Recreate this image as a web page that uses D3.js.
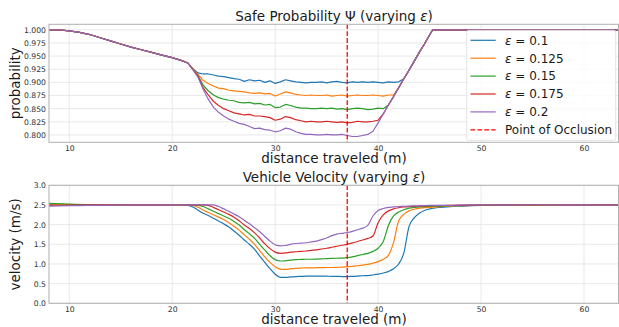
<!DOCTYPE html>
<html>
<head>
<meta charset="utf-8">
<script src="https://cdn.jsdelivr.net/npm/d3@7"></script>
<style>
  body { margin: 0; background: #fff; }
  svg { font-family: "DejaVu Sans", sans-serif; }
</style>
</head>
<body>
<svg id="chart" width="619" height="327"></svg>
<script>
// ---- data ----
const epsLabels = ['0.1', '0.125', '0.15', '0.175', '0.2'];
const colors = ['#1f77b4', '#ff7f0e', '#2ca02c', '#d62728', '#9467bd'];
const occlusionX = 37;

const xTicks = [10, 20, 30, 40, 50, 60];
const probTicks = [0.8, 0.825, 0.85, 0.875, 0.9, 0.925, 0.95, 0.975, 1.0];
const velTicks = [0, 0.5, 1, 1.5, 2, 2.5, 3];

// safe probability
const probX = [8, 9, 10, 11, 12, 13, 14, 15, 16, 17, 18, 19, 20, 21,
  21.5, 22, 22.5, 23, 23.5, 24, 24.5, 25, 25.5, 26, 26.5, 27, 27.5, 28, 28.5, 29, 29.5, 30,
  30.5, 31, 31.5, 32, 32.5, 33, 33.5, 34, 34.5, 35, 35.5, 36, 36.5, 37, 37.5, 38, 38.5, 39,
  39.5, 40, 40.5, 41, 41.5, 42, 42.5, 43, 43.5, 44, 44.5, 45, 45.3, 46, 50, 55, 60, 63.4];
const probHead = [1.000, 0.9998, 0.998, 0.995, 0.991, 0.985, 0.979, 0.973, 0.967, 0.962, 0.957, 0.952, 0.947, 0.941];
const probTail = [1, 1, 1, 1, 1, 1];
const prob01 = [...probHead,
  .937, .926, .918, .916, .916, .914, .912, .911, .909, .907,
  .906, .902, .905, .903, .904, .900, .903, .898, .901, .905,
  .903, .901, .900, .899, .900, .900, .901, .899, .901, .902,
  .900, .899, .901, .900, .901, .900, .901, .900, .899, .901,
  .900, .901, .907, .923, .940, .957, .973, .990, ...probTail];
const prob0125 = [...probHead,
  .937, .926, .915, .904, .898, .893, .889, .888, .885, .884,
  .883, .882, .880, .879, .880, .878, .879, .874, .878, .882,
  .880, .877, .876, .875, .876, .875, .875, .876, .874, .875,
  .876, .874, .875, .876, .875, .875, .876, .875, .874, .876,
  .876, .890, .907, .923, .940, .957, .973, .990, ...probTail];
const prob015 = [...probHead,
  .937, .925, .913, .895, .884, .876, .871, .868, .866, .865,
  .862, .861, .862, .859, .860, .857, .858, .852, .853, .858,
  .856, .853, .851, .851, .850, .850, .851, .850, .851, .849,
  .850, .848, .850, .851, .850, .848, .849, .851, .850, .857,
  .873, .890, .907, .923, .940, .957, .973, .990, ...probTail];
const prob0175 = [...probHead,
  .937, .925, .912, .890, .876, .864, .856, .850, .846, .842,
  .840, .838, .839, .836, .836, .835, .833, .828, .830, .835,
  .833, .829, .827, .825, .826, .825, .825, .826, .825, .824,
  .825, .823, .824, .826, .825, .825, .826, .828, .840, .857,
  .873, .890, .907, .923, .940, .957, .973, .990, ...probTail];
const prob02 = [...probHead,
  .937, .924, .910, .887, .868, .853, .843, .836, .830, .826,
  .822, .820, .816, .812, .813, .810, .809, .806, .808, .813,
  .811, .806, .803, .801, .801, .800, .800, .801, .800, .800,
  .801, .799, .797, .797, .799, .801, .807, .823, .840, .857,
  .873, .890, .907, .923, .940, .957, .973, .990, ...probTail];

// vehicle velocity
const velX = [8, 10, 12, 14, 16, 18, 20, 21,
  21.5, 22, 22.5, 23, 23.5, 24, 24.5, 25, 25.5, 26, 26.5, 27, 27.5, 28, 28.5, 29, 29.5, 30,
  30.5, 31, 31.5, 32, 32.5, 33, 33.5, 34, 34.5, 35, 35.5, 36, 36.5, 37, 37.5, 38, 38.5, 39,
  39.5, 40, 40.5, 41, 41.5, 42, 42.5, 43, 43.5, 44, 44.5, 45,
  46, 47, 48, 50, 52, 55, 58, 60, 63.4];
const vel01 = [2.51, 2.505, 2.50, 2.50, 2.50, 2.50, 2.50, 2.50,
  2.49, 2.45, 2.37, 2.29, 2.23, 2.16, 2.09, 2.02, 1.94, 1.84, 1.73, 1.61, 1.50, 1.37, 1.20, 1.04, 0.88, 0.74,
  0.66, 0.66, 0.67, 0.68, 0.685, 0.69, 0.69, 0.69, 0.69, 0.69, 0.685, 0.685, 0.68, 0.68, 0.685, 0.69, 0.70, 0.705,
  0.72, 0.74, 0.77, 0.81, 0.88, 1.00, 1.28, 1.95, 2.17, 2.29, 2.36, 2.40,
  2.44, 2.46, 2.47, 2.49, 2.49, 2.50, 2.50, 2.50, 2.49];
const vel0125 = [2.52, 2.51, 2.50, 2.50, 2.50, 2.50, 2.50, 2.50,
  2.50, 2.49, 2.44, 2.37, 2.31, 2.25, 2.19, 2.13, 2.05, 1.96, 1.86, 1.74, 1.63, 1.50, 1.34, 1.18, 1.04, 0.93,
  0.87, 0.86, 0.88, 0.89, 0.895, 0.90, 0.90, 0.905, 0.905, 0.91, 0.91, 0.915, 0.92, 0.93, 0.94, 0.955, 0.97, 0.99,
  1.02, 1.06, 1.12, 1.22, 1.55, 2.10, 2.26, 2.35, 2.39, 2.42, 2.43, 2.44,
  2.46, 2.47, 2.48, 2.49, 2.50, 2.50, 2.50, 2.50, 2.49];
const vel015 = [2.54, 2.52, 2.505, 2.50, 2.50, 2.50, 2.50, 2.50,
  2.50, 2.50, 2.49, 2.46, 2.40, 2.34, 2.28, 2.22, 2.16, 2.08, 1.99, 1.87, 1.77, 1.65, 1.50, 1.35, 1.21, 1.11,
  1.075, 1.08, 1.10, 1.11, 1.115, 1.12, 1.12, 1.125, 1.13, 1.135, 1.14, 1.145, 1.15, 1.16, 1.18, 1.21, 1.24, 1.27,
  1.32, 1.40, 1.57, 1.98, 2.22, 2.32, 2.38, 2.42, 2.44, 2.45, 2.46, 2.465,
  2.47, 2.48, 2.485, 2.49, 2.50, 2.50, 2.50, 2.50, 2.50];
const vel0175 = [2.49, 2.495, 2.50, 2.50, 2.50, 2.50, 2.50, 2.50,
  2.50, 2.50, 2.50, 2.50, 2.49, 2.44, 2.38, 2.32, 2.26, 2.19, 2.10, 1.99, 1.90, 1.79, 1.66, 1.51, 1.39, 1.30,
  1.27, 1.28, 1.30, 1.31, 1.32, 1.33, 1.345, 1.36, 1.38, 1.40, 1.425, 1.45, 1.475, 1.50, 1.535, 1.57, 1.61, 1.65,
  1.71, 2.05, 2.25, 2.35, 2.40, 2.43, 2.45, 2.46, 2.465, 2.47, 2.475, 2.48,
  2.485, 2.49, 2.49, 2.50, 2.50, 2.50, 2.50, 2.50, 2.50];
const vel02 = [2.47, 2.48, 2.49, 2.495, 2.50, 2.50, 2.50, 2.50,
  2.50, 2.50, 2.50, 2.50, 2.50, 2.50, 2.46, 2.40, 2.34, 2.27, 2.20, 2.11, 2.02, 1.92, 1.82, 1.70, 1.58, 1.49,
  1.46, 1.47, 1.50, 1.52, 1.53, 1.54, 1.56, 1.58, 1.62, 1.66, 1.72, 1.76, 1.78, 1.80, 1.83, 1.87, 1.91, 1.98,
  2.22, 2.36, 2.41, 2.44, 2.45, 2.46, 2.465, 2.47, 2.475, 2.48, 2.485, 2.49,
  2.49, 2.49, 2.50, 2.50, 2.50, 2.505, 2.50, 2.50, 2.49];

const probSeries = [prob01, prob0125, prob015, prob0175, prob02];
const velSeries = [vel01, vel0125, vel015, vel0175, vel02];

// ---- layout ----
const svg = d3.select('#chart');
const left = 49, right = 619;

const x = d3.scaleLinear().domain([8.03, 63.4]).range([left, right]);

function panel(opts) {
  const y = d3.scaleLinear().domain(opts.yDomain).range([opts.bottom, opts.top]);
  const g = svg.append('g');

  g.append('clipPath').attr('id', opts.id)
    .append('rect')
    .attr('x', left).attr('y', opts.top)
    .attr('width', right - left).attr('height', opts.bottom - opts.top);

  // grid
  g.append('g').selectAll('line').data(xTicks).join('line')
    .attr('x1', d => x(d)).attr('x2', d => x(d))
    .attr('y1', opts.top).attr('y2', opts.bottom)
    .attr('stroke', '#e3e3e3').attr('stroke-width', 0.8);
  g.append('g').selectAll('line').data(opts.yTicks).join('line')
    .attr('x1', left).attr('x2', right)
    .attr('y1', d => y(d)).attr('y2', d => y(d))
    .attr('stroke', '#e3e3e3').attr('stroke-width', 0.8);

  // axes: labels only, no tick marks
  const xa = g.append('g')
    .attr('transform', `translate(0,${opts.bottom})`)
    .call(d3.axisBottom(x).tickValues(xTicks).tickSize(0).tickPadding(3.5));
  xa.select('.domain').remove();
  xa.selectAll('text').attr('font-size', 7.7).attr('fill', '#333')
    .attr('font-family', '"DejaVu Sans", sans-serif');

  const ya = g.append('g')
    .attr('transform', `translate(${left},0)`)
    .call(d3.axisLeft(y).tickValues(opts.yTicks).tickSize(0).tickPadding(3)
      .tickFormat(d3.format(opts.fmt)));
  ya.select('.domain').remove();
  ya.selectAll('text').attr('font-size', 7.7).attr('fill', '#333')
    .attr('font-family', '"DejaVu Sans", sans-serif');

  // series
  const line = d3.line()
    .x((d, i) => x(opts.xs[i]))
    .y(d => y(d))
    .curve(opts.curve);
  const lines = g.append('g').attr('clip-path', `url(#${opts.id})`);
  opts.series.forEach((s, k) => {
    lines.append('path')
      .attr('d', line(s))
      .attr('fill', 'none')
      .attr('stroke', colors[k])
      .attr('stroke-width', 1.2)
      .attr('stroke-linejoin', 'round');
  });

  // point of occlusion
  lines.append('line')
    .attr('x1', x(occlusionX)).attr('x2', x(occlusionX))
    .attr('y1', opts.top).attr('y2', opts.bottom)
    .attr('stroke', '#ff0000').attr('stroke-width', 1.3)
    .attr('stroke-dasharray', '4.8,2.1');

  // frame
  g.append('rect')
    .attr('x', left).attr('y', opts.top)
    .attr('width', right - left - 0.5).attr('height', opts.bottom - opts.top)
    .attr('fill', 'none').attr('stroke', '#b0b0b0').attr('stroke-width', 1);

  // title with italic epsilon
  const t = g.append('text')
    .attr('x', (left + right) / 2).attr('y', opts.top - 3)
    .attr('text-anchor', 'middle').attr('font-size', 13.5).attr('fill', '#1a1a1a');
  t.append('tspan').text(opts.title + ' (varying ');
  t.append('tspan').attr('font-style', 'italic').text('ε');
  t.append('tspan').text(')');

  g.append('text')
    .attr('x', (left + right) / 2).attr('y', opts.bottom + 21)
    .attr('text-anchor', 'middle').attr('font-size', 13.5).attr('fill', '#1a1a1a')
    .text('distance traveled (m)');

  g.append('text')
    .attr('transform', `translate(20,${(opts.top + opts.bottom) / 2}) rotate(-90)`)
    .attr('text-anchor', 'middle').attr('font-size', 13.5).attr('fill', '#1a1a1a')
    .text(opts.ylabel);

  return { g, y };
}

const probPanel = panel({
  id: 'clipTop', top: 24.3, bottom: 142.3, yDomain: [0.786, 1.0105],
  yTicks: probTicks, fmt: '.3f', xs: probX, series: probSeries,
  curve: d3.curveLinear, title: 'Safe Probability Ψ', ylabel: 'probability'
});

panel({
  id: 'clipBot', top: 185.3, bottom: 303.3, yDomain: [0, 3],
  yTicks: velTicks, fmt: '.1f', xs: velX, series: velSeries,
  curve: d3.curveMonotoneX, title: 'Vehicle Velocity', ylabel: 'velocity (m/s)'
});

// ---- legend ----
const lg = probPanel.g.append('g');
lg.append('rect')
  .attr('x', 466.7).attr('y', 30.3).attr('width', 149).attr('height', 110)
  .attr('rx', 2).attr('fill', '#fff').attr('fill-opacity', 0.8)
  .attr('stroke', '#dcdcdc').attr('stroke-width', 0.8);

const legendItems = epsLabels.map((e, i) => ({ eps: e, color: colors[i], dash: null }))
  .concat([{ eps: null, color: '#ff0000', dash: '4.8,2.1' }]);

legendItems.forEach((d, i) => {
  const cy = 40.3 + i * 17.9;
  lg.append('line')
    .attr('x1', 470.5).attr('x2', 495.7).attr('y1', cy).attr('y2', cy)
    .attr('stroke', d.color).attr('stroke-width', d.dash ? 1.3 : 1.2)
    .attr('stroke-dasharray', d.dash);
  const t = lg.append('text')
    .attr('x', 505).attr('y', cy + 4.3)
    .attr('font-size', 12).attr('fill', '#1a1a1a');
  if (d.eps) {
    t.append('tspan').attr('font-style', 'italic').text('ε');
    t.append('tspan').text(' = ' + d.eps);
  } else {
    t.text('Point of Occlusion');
  }
});
</script>
</body>
</html>
